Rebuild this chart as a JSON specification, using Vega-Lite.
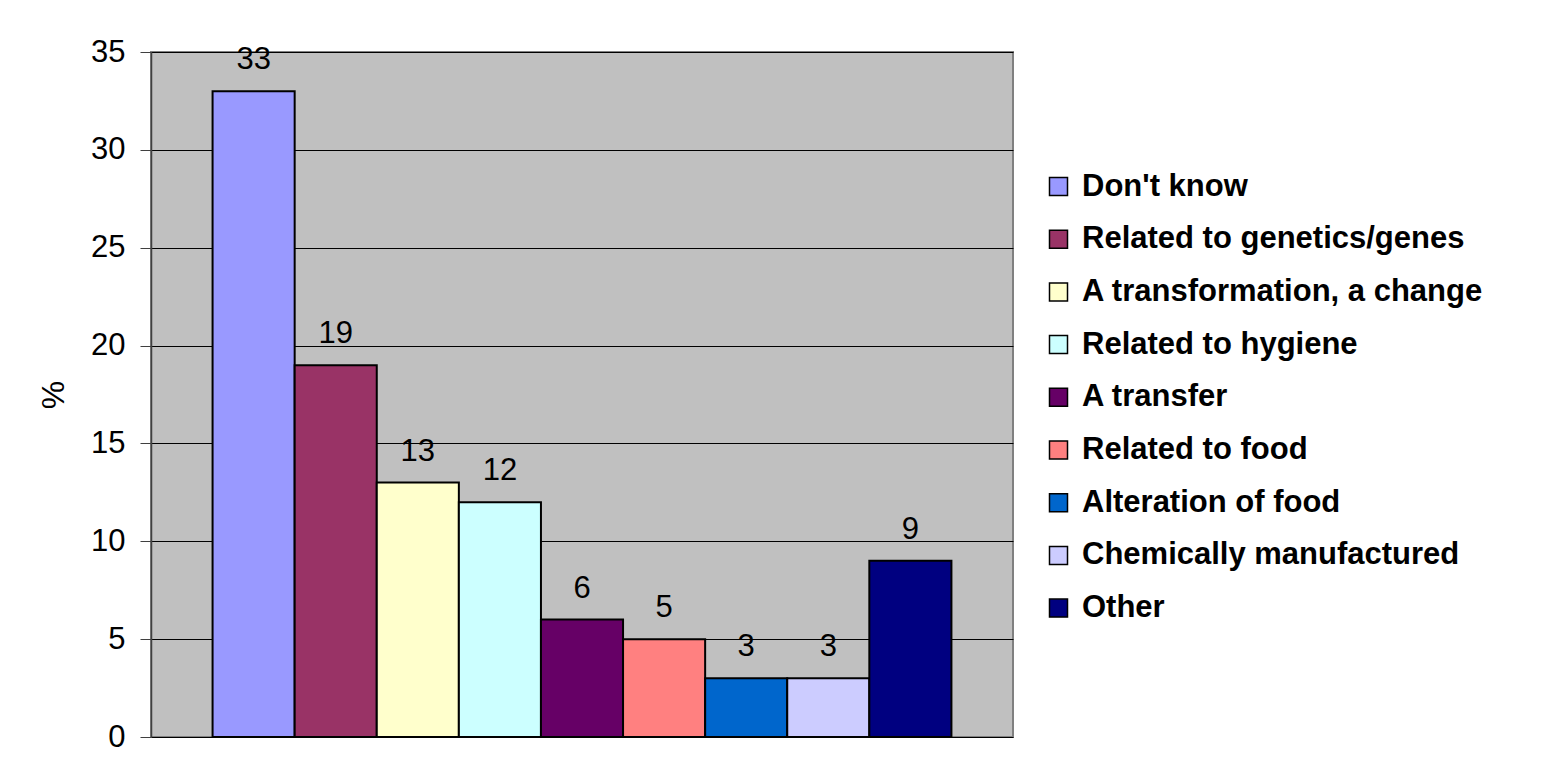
{
  "$schema": "https://vega.github.io/schema/vega-lite/v6.json",
  "autosize": "none",
  "width": 862,
  "height": 685,
  "padding": {"left": 151, "top": 52, "right": 530, "bottom": 39},
  "background": "white",
  "data": {
    "values": [
      {"answer": "Don't know", "pct": 33},
      {"answer": "Related to genetics/genes", "pct": 19},
      {"answer": "A transformation, a change", "pct": 13},
      {"answer": "Related to hygiene", "pct": 12},
      {"answer": "A transfer", "pct": 6},
      {"answer": "Related to food", "pct": 5},
      {"answer": "Alteration of food", "pct": 3},
      {"answer": "Chemically manufactured", "pct": 3},
      {"answer": "Other", "pct": 9}
    ]
  },
  "encoding": {
    "x": {
      "field": "answer",
      "type": "nominal",
      "sort": null,
      "scale": {"paddingInner": 0, "paddingOuter": 0.75},
      "axis": {"labels": false, "ticks": false, "domain": false, "title": null}
    },
    "y": {
      "field": "pct",
      "type": "quantitative",
      "title": "%",
      "scale": {"domain": [0, 35]},
      "axis": {
        "values": [0, 5, 10, 15, 20, 25, 30, 35],
        "grid": true,
        "gridColor": "#000000",
        "gridWidth": 1,
        "domainColor": "#404040",
        "domainWidth": 1.5,
        "tickColor": "#404040",
        "tickSize": 11,
        "labelPadding": 15,
        "labelFontSize": 31,
        "labelColor": "black",
        "titleFontSize": 32,
        "titleFontWeight": "normal",
        "titleColor": "black",
        "titlePadding": 20
      }
    }
  },
  "layer": [
    {
      "mark": {"type": "bar", "stroke": "black", "strokeWidth": 2},
      "encoding": {
        "color": {
          "field": "answer",
          "type": "nominal",
          "sort": null,
          "title": null,
          "scale": {
            "domain": ["Don't know", "Related to genetics/genes", "A transformation, a change", "Related to hygiene", "A transfer", "Related to food", "Alteration of food", "Chemically manufactured", "Other"],
            "range": ["#9999FF", "#993366", "#FFFFCC", "#CCFFFF", "#660066", "#FF8080", "#0066CC", "#CCCCFF", "#000080"]
          },
          "legend": {
            "orient": "none",
            "legendX": 892,
            "legendY": 119,
            "symbolType": "square",
            "symbolSize": 324,
            "symbolStrokeColor": "black",
            "symbolStrokeWidth": 1.5,
            "symbolOpacity": 1,
            "labelFontSize": 31,
            "labelFontWeight": "bold",
            "labelColor": "black",
            "labelLimit": 600,
            "labelOffset": 8,
            "rowPadding": 20.7,
            "padding": 0
          }
        }
      }
    },
    {
      "mark": {"type": "text", "baseline": "alphabetic", "dy": -22, "fontSize": 31, "color": "black"},
      "encoding": {
        "text": {"field": "pct", "type": "quantitative"}
      }
    }
  ],
  "config": {
    "font": "Liberation Sans",
    "view": {"fill": "#C0C0C0", "stroke": "#808080", "strokeWidth": 2}
  }
}
